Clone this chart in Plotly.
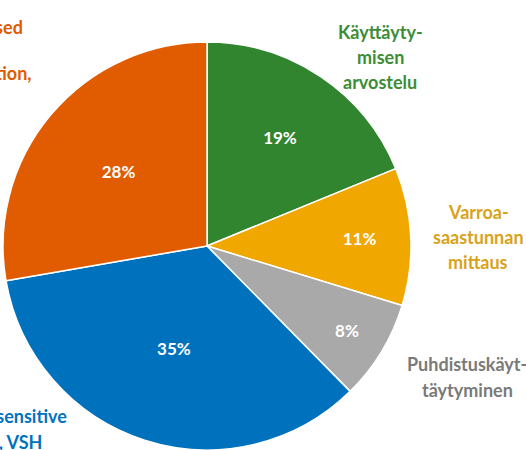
import plotly.graph_objects as go

# Data
categories = ["Käyttäytymisen arvostelu", "Varroa-saastunnan mittaus",
              "Puhdistuskäyttäytyminen", "Varroa sensitive hygiene, VSH",
              "Hygiene-based selection"]
values = [19, 11, 8, 35, 28]
pct_labels = ["19%", "11%", "8%", "35%", "28%"]
colors = ["#31852F", "#F0A800", "#A9A9A9", "#0072BD", "#E15B00"]
label_colors = ["#3C8D35", "#D9A21B", "#7A7A7A", "#0072BD", "#E05A00"]

# outside category labels, split in lines as in the chart
label_lines = [
    ["Käyttäyty-", "misen", "arvostelu"],
    ["Varroa-", "saastunnan", "mittaus"],
    ["Puhdistuskäyt-", "täytyminen"],
    ["Varroa sensitive", "hygiene, VSH"],
    ["Pin-test based", "hygienic", "selection,"],
]

W, H = 526, 450
FONT = "Lato"

fig = go.Figure(go.Pie(
    labels=categories,
    values=values,
    text=pct_labels,
    texttemplate="<b>%{text}</b>",
    textinfo="text",
    textposition="inside",
    insidetextorientation="horizontal",
    insidetextfont=dict(family=FONT, size=17, color="white"),
    marker=dict(colors=colors, line=dict(color="white", width=1.5)),
    sort=False,
    direction="clockwise",
    rotation=0,
    hole=0,
    showlegend=False,
    domain=dict(x=[3 / W, 411 / W], y=[0, 1 - 42 / H]),
))

# label layout (pixel anchors): (x, first line y, line spacing, xanchor)
label_pos = [
    (380, 32, 25, "center"),
    (478, 212, 25, "center"),
    (467, 364, 26, "center"),
    (None, 416, 26, "right"),
    (None, 27, 23, "right"),
]
right_ends = {3: [69, 44], 4: [25, -6, 34]}

annotations = []
for i, lines in enumerate(label_lines):
    x0, y0, dy, anchor = label_pos[i]
    for j, line in enumerate(lines):
        xp = right_ends[i][j] if anchor == "right" else x0
        yp = y0 + j * dy
        annotations.append(dict(
            x=xp / W, y=1 - yp / H, xref="paper", yref="paper",
            text="<b>" + line + "</b>", showarrow=False,
            xanchor=anchor, yanchor="middle",
            font=dict(family=FONT, size=18, color=label_colors[i]),
        ))

fig.update_layout(
    width=W, height=H,
    margin=dict(l=0, r=0, t=0, b=0),
    paper_bgcolor="white",
    plot_bgcolor="white",
    annotations=annotations,
)

fig.write_html("out.html",
               config={"displayModeBar": False},
               post_script="document.body.style.margin='0';"
                           "document.body.style.overflow='hidden';")
